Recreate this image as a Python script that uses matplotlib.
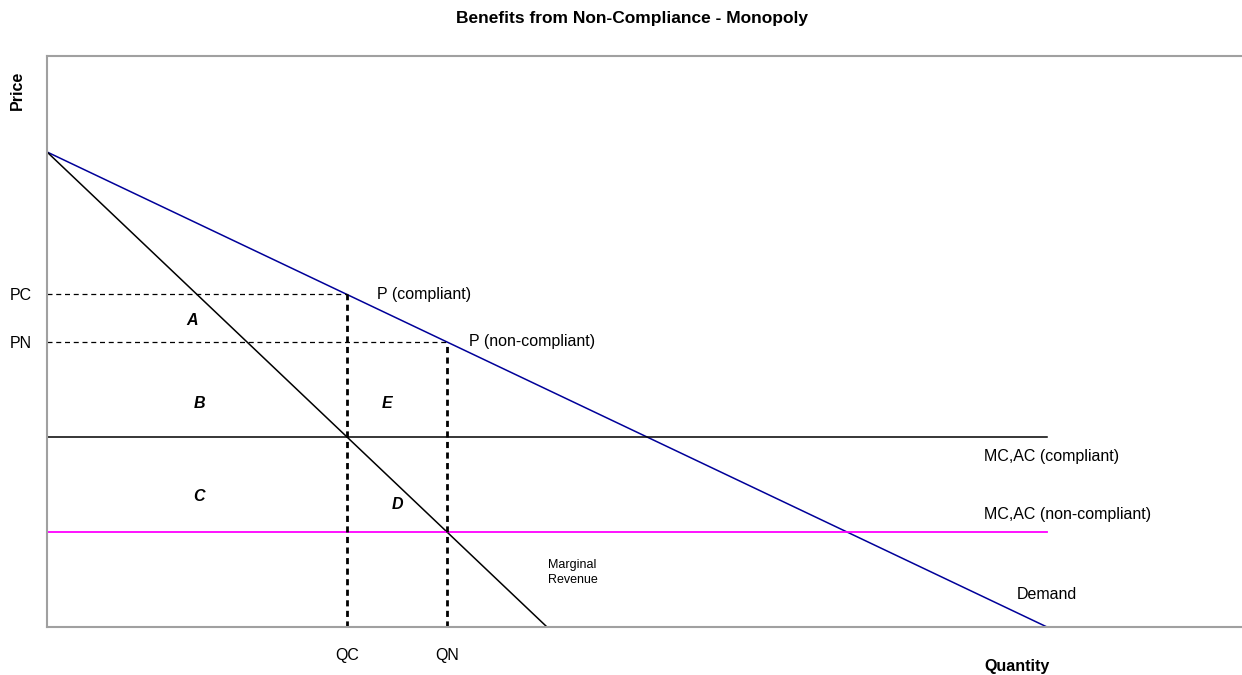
import matplotlib
matplotlib.use("Agg")
import matplotlib.pyplot as plt

plt.rcParams['font.family'] = ['Liberation Sans', 'DejaVu Sans']

# Data
demand_q = [0, 10]
demand_p = [10, 0]
mr_q = [0, 5]
mr_p = [10, 0]
mc_compliant = 4
mc_noncompliant = 2
mc_q_range = [0, 10]
qc, pc = 3, 7
qn, pn = 4, 6
price_ticks = [pc, pn]
price_labels = ["PC", "PN"]
qty_ticks = [qc, qn]
qty_labels = ["QC", "QN"]
area_labels = ["A", "B", "C", "E", "D"]
area_pos = [(1.45, 6.45), (1.52, 4.7), (1.52, 2.75), (3.4, 4.7), (3.5, 2.57)]

W, H = 1242, 675
fig = plt.figure(figsize=(W / 100, H / 100), dpi=100)
ax = fig.add_axes([47 / W, 1 - 627 / H, 1200 / W, (627 - 56) / H])
ax.set_xlim(0, 12)
ax.set_ylim(0, 12.02)

ax.plot(demand_q, demand_p, color='#000099', lw=1.1)
ax.plot(mr_q, mr_p, color='black', lw=1.1)
ax.plot(mc_q_range, [mc_compliant] * 2, color='black', lw=1.1)
ax.plot(mc_q_range, [mc_noncompliant] * 2, color='#FF00FF', lw=1.3)

# dashed guides
ax.plot([0, qc], [pc, pc], color='black', lw=0.9, ls=(0, (4, 3)))
ax.plot([0, qn], [pn, pn], color='black', lw=0.9, ls=(0, (4, 3)))
ax.plot([qc, qc], [0, pc], color='black', lw=2.0, ls=(0, (2.2, 1.6)))
ax.plot([qn, qn], [0, pn], color='black', lw=2.0, ls=(0, (2.2, 1.6)))

for s in ['left', 'top', 'bottom']:
    ax.spines[s].set_color('#a0a0a0')
    ax.spines[s].set_linewidth(1.5)
ax.spines['right'].set_visible(False)

fs = 11.5
ax.set_xticks(qty_ticks)
ax.set_xticklabels(qty_labels, fontsize=fs)
ax.set_yticks(price_ticks)
ax.set_yticklabels(price_labels, fontsize=fs)
ax.tick_params(length=0)
ax.tick_params(axis='y', pad=11)
ax.tick_params(axis='x', pad=15)

ax.text(3.3, 7, "P (compliant)", fontsize=fs, va='center', ha='left')
ax.text(4.22, 6, "P (non-compliant)", fontsize=fs, va='center', ha='left')
ax.text(9.37, 3.58, "MC,AC (compliant)", fontsize=fs, va='center', ha='left')
ax.text(9.37, 2.37, "MC,AC (non-compliant)", fontsize=fs, va='center', ha='left')
ax.text(9.7, 0.68, "Demand", fontsize=fs, va='center', ha='left')
ax.text(5.01, 1.15, "Marginal\nRevenue", fontsize=9, va='center', ha='left', linespacing=1.35)

for lab, (x, y) in zip(area_labels, area_pos):
    ax.text(x, y, lab, fontsize=11.5, fontweight='bold', fontstyle='italic', ha='center', va='center')

fig.text(632 / W, 1 - 18 / H, "Benefits from Non-Compliance - Monopoly", fontsize=12.5,
         fontweight='bold', ha='center', va='center')
fig.text(17 / W, 1 - 90 / H, "Price", fontsize=11.5, fontweight='bold', rotation=90,
         ha='center', va='center')
fig.text(1017 / W, 1 - 667 / H, "Quantity", fontsize=11.5, fontweight='bold',
         ha='center', va='center')

fig.savefig("out.png", dpi=100)
